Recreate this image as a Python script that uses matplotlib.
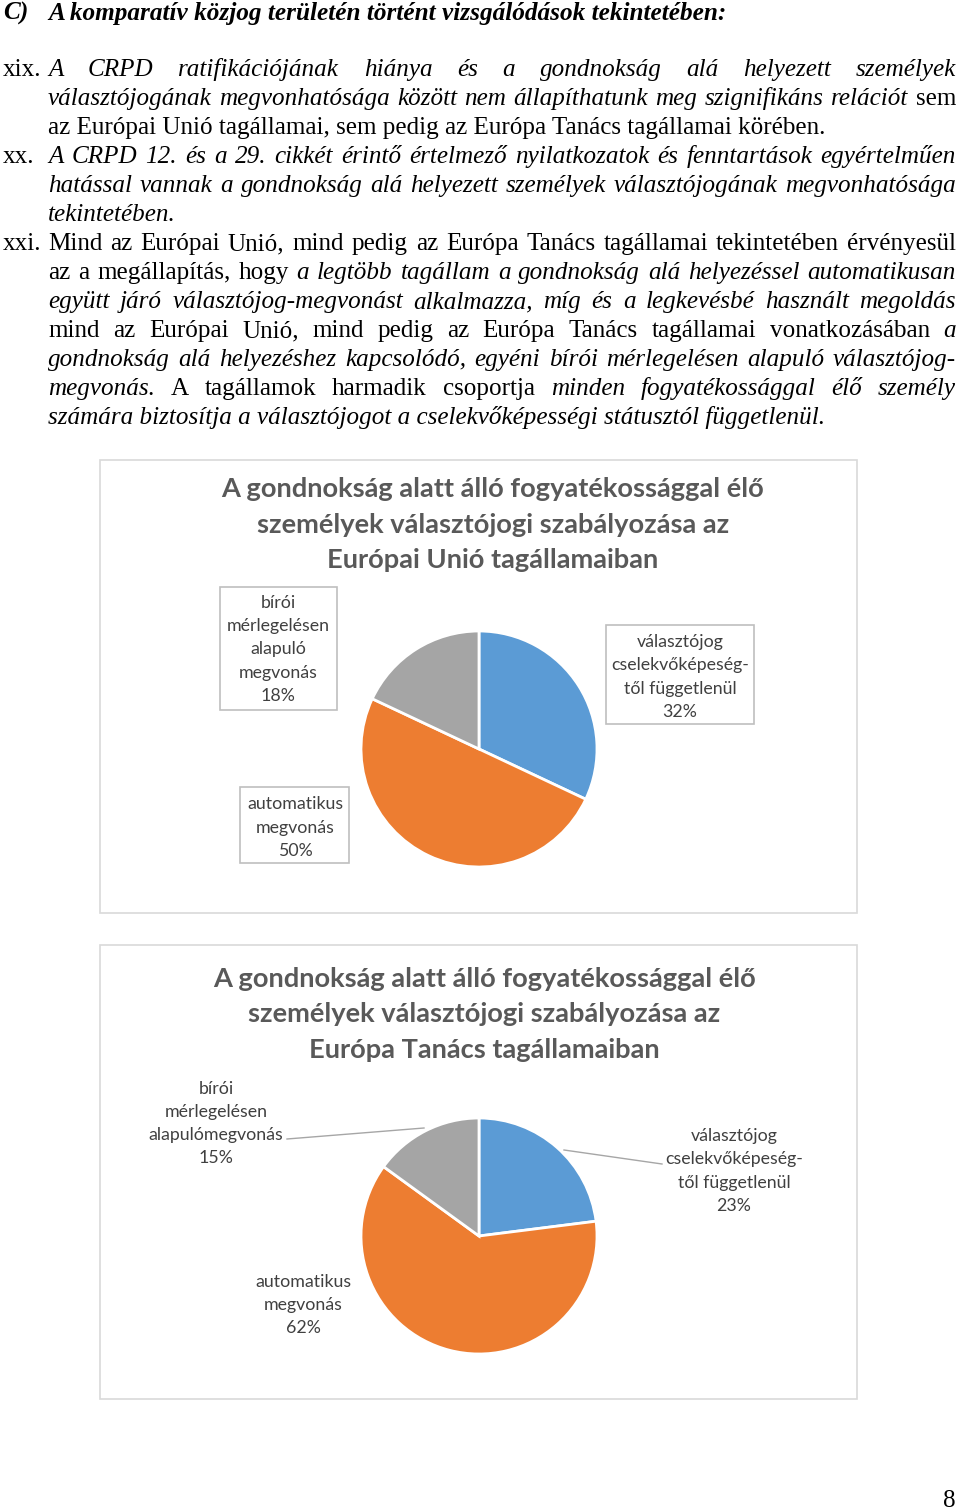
import matplotlib
matplotlib.use('Agg')
import matplotlib.pyplot as plt
from matplotlib.patches import Rectangle
from matplotlib.lines import Line2D

# --- data -------------------------------------------------------------
categories = ['választójog cselekvőképességtől függetlenül',
              'automatikus megvonás',
              'bírói mérlegelésen alapuló megvonás']
eu_values = [32, 50, 18]
coe_values = [23, 62, 15]
colors = ['#5B9BD5', '#ED7D31', '#A5A5A5']

eu_title = ['A gondnokság alatt álló fogyatékossággal élő',
            'személyek választójogi szabályozása az',
            'Európai Unió tagállamaiban']
coe_title = ['A gondnokság alatt álló fogyatékossággal élő',
             'személyek választójogi szabályozása az',
             'Európa Tanács tagállamaiban']

eu_labels = ['választójog\ncselekvőképeség-\ntől függetlenül',
             'automatikus\nmegvonás',
             'bírói\nmérlegelésen\nalapuló\nmegvonás']
coe_labels = ['választójog\ncselekvőképeség-\ntől függetlenül',
              'automatikus\nmegvonás',
              'bírói\nmérlegelésen\nalapulómegvonás']

heading = 'A komparatív közjog területén történt vizsgálódások tekintetében:'

# body lines: (marker, [(italic, text), ...], justified)
I, R = True, False
body = [
    ('xix.', [(I, 'A CRPD ratifikációjának hiánya és a gondnokság alá helyezett személyek')], True),
    ('', [(I, 'választójogának megvonhatósága között nem állapíthatunk meg szignifikáns relációt'), (R, 'sem')], True),
    ('', [(R, 'az Európai Unió tagállamai, sem pedig az Európa Tanács tagállamai körében.')], False),
    ('xx.', [(I, 'A CRPD 12. és a 29. cikkét érintő értelmező nyilatkozatok és fenntartások egyértelműen')], True),
    ('', [(I, 'hatással vannak a gondnokság alá helyezett személyek választójogának megvonhatósága')], True),
    ('', [(I, 'tekintetében.')], False),
    ('xxi.', [(R, 'Mind az Európai Unió, mind pedig az Európa Tanács tagállamai tekintetében érvényesül')], True),
    ('', [(R, 'az a megállapítás, hogy'), (I, 'a legtöbb tagállam a gondnokság alá helyezéssel automatikusan')], True),
    ('', [(I, 'együtt járó választójog-megvonást alkalmazza, míg és a legkevésbé használt megoldás')], True),
    ('', [(R, 'mind az Európai Unió, mind pedig az Európa Tanács tagállamai vonatkozásában'), (I, 'a')], True),
    ('', [(I, 'gondnokság alá helyezéshez kapcsolódó, egyéni bírói mérlegelésen alapuló választójog-')], True),
    ('', [(I, 'megvonás.'), (R, 'A tagállamok harmadik csoportja'), (I, 'minden fogyatékossággal élő személy')], True),
    ('', [(I, 'számára biztosítja a választójogot a cselekvőképességi státusztól függetlenül.')], False),
]

# --- page -------------------------------------------------------------
W, H = 960, 1509
fig = plt.figure(figsize=(W / 100, H / 100), dpi=100)
fig.patch.set_facecolor('white')
renderer = fig.canvas.get_renderer()

serif = 'Liberation Serif'
sans = ['Lato', 'DejaVu Sans']


def fx(x):
    return x / W


def fy(y):
    return 1 - y / H


def width_of(s, **kw):
    t = fig.text(0, 0, s, **kw)
    w = t.get_window_extent(renderer).width
    t.remove()
    return w


def fit(s, target, **kw):
    return 20 * target / width_of(s, fontsize=20, **kw)


body_size = fit(body[2][1][0][1], 780, family=serif)
head_size = fit(heading, 679, family=serif, weight='bold', style='italic')

# heading
fig.text(fx(3), fy(20), 'C)', family=serif, weight='bold', style='italic',
         fontsize=head_size, va='baseline')
fig.text(fx(48), fy(20), heading, family=serif, weight='bold', style='italic',
         fontsize=head_size, va='baseline')

left, right = 48, 956
y = 76
for marker, segs, justified in body:
    if marker:
        fig.text(fx(3), fy(y), marker, family=serif, fontsize=body_size, va='baseline')
    words = []
    for it, txt in segs:
        for w in txt.split():
            words.append((w, it))
    if justified:
        widths = [width_of(w, family=serif, fontsize=body_size,
                           style='italic' if it else 'normal') for w, it in words]
        gap = (right - left - sum(widths)) / (len(words) - 1)
        x = left
        for (w, it), wd in zip(words, widths):
            fig.text(fx(x), fy(y), w, family=serif, fontsize=body_size,
                     style='italic' if it else 'normal', va='baseline')
            x += wd + gap
    else:
        it = segs[0][0]
        fig.text(fx(left), fy(y), segs[0][1], family=serif, fontsize=body_size,
                 style='italic' if it else 'normal', va='baseline')
    y += 29

fig.text(fx(956), fy(1507), '8', family=serif, fontsize=body_size, ha='right', va='baseline')

# --- charts -----------------------------------------------------------
title_size = fit(eu_title[0], 543, family=sans, weight='bold')
label_size = fit('alapulómegvonás', 135, family=sans)
title_color = '#595959'
label_color = '#404040'


def frame(x0, y0, x1, y1, color='#d9d9d9'):
    fig.patches.append(Rectangle((fx(x0), fy(y1)), (x1 - x0) / W, (y1 - y0) / H,
                                 transform=fig.transFigure, facecolor='none',
                                 edgecolor=color, lw=1.2))


def pie(cx, cy, r, values):
    ax = fig.add_axes([fx(cx - r), fy(cy + r), 2 * r / W, 2 * r / H])
    ax.pie(values, colors=colors, startangle=90, counterclock=False,
           wedgeprops=dict(edgecolor='white', linewidth=2))
    ax.set_xlim(-1, 1)
    ax.set_ylim(-1, 1)
    ax.axis('off')
    return ax


def title(lines, cx, y0):
    for i, ln in enumerate(lines):
        fig.text(fx(cx), fy(y0 + 35.5 * i), ln, family=sans, weight='bold',
                 fontsize=title_size, color=title_color, ha='center', va='center')


def label(text, cx, cy, step=23.2):
    lines = text.split('\n')
    y0 = cy - step * (len(lines) - 1) / 2
    for i, ln in enumerate(lines):
        fig.text(fx(cx), fy(y0 + i * step), ln, family=sans, fontsize=label_size,
                 color=label_color, ha='center', va='center_baseline')


# chart 1: EU
frame(100, 460, 857, 913)
title(eu_title, 493, 489)
pie(479, 749, 118, eu_values)
eu_pos = [(680, 675.5), (295, 826), (278, 648)]
eu_boxes = [(606, 625, 754, 724), (240, 787, 349, 863), (220, 587, 337, 710)]
for lab, v, (cx, cy), b in zip(eu_labels, eu_values, eu_pos, eu_boxes):
    frame(*b, color='#bfbfbf')
    label(f'{lab}\n{v}%', cx, cy)

# chart 2: Council of Europe
frame(100, 945, 857, 1399)
title(coe_title, 484.5, 979)
pie(479, 1236, 118, coe_values)
coe_pos = [(734, 1169.5), (303, 1303.5), (216, 1122)]
for lab, v, (cx, cy) in zip(coe_labels, coe_values, coe_pos):
    label(f'{lab}\n{v}%', cx, cy)
for (x0, y0, x1, y1) in [(287, 1139, 424, 1128), (564, 1150, 662, 1164)]:
    fig.lines.append(Line2D([fx(x0), fx(x1)], [fy(y0), fy(y1)], transform=fig.transFigure,
                            color='#a6a6a6', lw=1))

fig.savefig('out.png', dpi=100)
